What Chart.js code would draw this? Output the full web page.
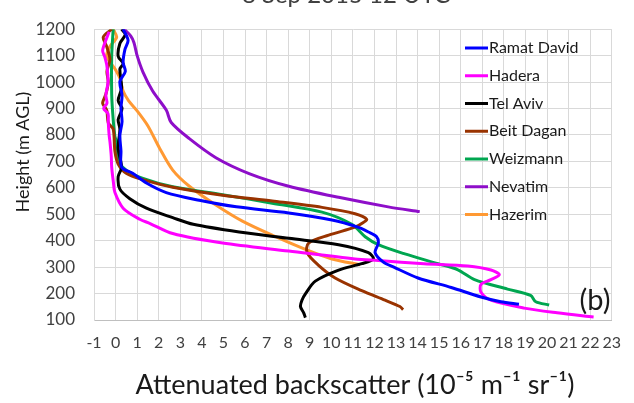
<!DOCTYPE html>
<html>
<head>
<meta charset="utf-8">
<script src="https://cdn.jsdelivr.net/npm/chart.js@4/dist/chart.umd.min.js"></script>
<style>
  html, body { margin: 0; padding: 0; background: #fff; overflow: hidden; }
  #wrap { width: 634px; height: 403px; position: relative; }
</style>
</head>
<body>
<div id="wrap"><canvas id="c" width="634" height="403"></canvas></div>
<script>
// ---- data: [backscatter (1e-5 m-1 sr-1), height (m AGL)] ----
const seriesNames = ["Ramat David", "Hadera", "Tel Aviv", "Beit Dagan", "Weizmann", "Nevatim", "Hazerim"];
const seriesColors = ["#0000ff", "#ff00ff", "#000000", "#993300", "#00a650", "#8e0ec9", "#ff9933"];

const ramatDavid = [[0.35,1200],[0.58,1158],[0.43,1122],[0.35,1074],[0.45,1040],[0.2,1002],[0.3,950],[0.25,900],[0.3,850],[0.2,798],[0.25,740],[0.28,678],[0.81,654],[1.43,618],[2.35,582],[3.88,553],[5.6,528],[8.03,505],[10.03,478],[11.2,452],[11.72,433],[12.1,415],[12.18,391],[12.03,355],[12.4,320],[12.9,300],[14.02,259],[15.56,223],[16.94,187],[17.86,169],[18.7,160]];
const hadera = [[-0.3,1190],[-0.6,1120],[-0.5,1095],[-0.4,1060],[-0.35,1000],[-0.45,950],[-0.4,920],[-0.55,900],[-0.35,880],[-0.34,850],[-0.3,800],[-0.26,774],[-0.2,720],[-0.18,678],[-0.1,620],[-0.03,582],[0.35,523],[1.12,481],[1.6,465],[2.65,427],[4.96,391],[8.03,361],[11.1,331],[12.18,325],[14.3,313],[16.33,304],[17.4,289],[17.79,271],[17.4,253],[16.94,235],[16.94,205],[17.4,175],[18.94,145],[20.47,127],[22.16,111]];
const telAviv = [[0.28,1200],[0.45,1180],[0.2,1146],[0.12,1098],[0.35,1070],[0.2,1050],[0.28,978],[0.12,930],[0.3,900],[0.12,858],[0.2,822],[0.12,750],[0.28,678],[0.12,642],[0.2,595],[0.66,559],[1.43,523],[2.65,487],[3.6,462],[5.73,433],[8.03,409],[10.34,385],[11.72,355],[11.95,331],[11.41,313],[10.34,289],[9.26,247],[8.8,199],[8.64,175],[8.57,151],[8.72,127],[8.8,109]];
const beitDagan = [[-0.18,1200],[-0.57,1170],[-0.41,1134],[-0.26,1086],[-0.4,1040],[-0.34,1000],[-0.45,954],[-0.6,920],[-0.41,894],[-0.34,846],[-0.11,822],[-0.03,738],[0.12,690],[0.51,654],[1.27,631],[2.65,602],[4.96,572],[7.26,550],[9.57,526],[11.1,502],[11.64,481],[11.41,465],[11.1,451],[9.88,421],[8.95,391],[8.88,355],[9.41,307],[10.18,259],[11.41,211],[12.49,175],[13.18,151],[13.33,139]];
const weizmann = [[-0.11,1200],[-0.18,1098],[-0.18,954],[-0.11,858],[-0.03,794],[0.05,774],[0.12,702],[0.51,666],[1.27,636],[2.65,604],[4.96,574],[7.26,542],[9.57,508],[10.95,462],[11.57,415],[12.18,385],[13.41,350],[14.95,313],[15.87,290],[16.64,253],[18.17,217],[19.24,193],[19.48,169],[20.1,157]];
const nevatim = [[0.4,1200],[0.7,1175],[0.85,1150],[1.0,1100],[1.27,1038],[1.72,966],[2.35,894],[2.58,847],[3.42,786],[4.65,714],[6.19,654],[8.03,606],[10.34,564],[12.64,528],[14.1,510]];
const hazerim = [[-0.12,1200],[0.05,1170],[-0.26,1135],[-0.41,1098],[-0.03,1050],[0.2,1014],[0.35,966],[0.6,930],[0.97,894],[1.5,834],[2.04,750],[2.65,667],[3.42,606],[4.65,535],[5.88,474],[7.42,415],[8.8,367],[10.03,331],[11.34,309]];

const xTicksMin = -1, xTicksMax = 23, xStep = 1;
const yTicksMin = 100, yTicksMax = 1200, yStep = 100;

const chartTitle = "8 Sep 2015 12 UTC";
const xTitle = "Attenuated backscatter (10\u207B\u2075 m\u207B\u00B9 sr\u207B\u00B9)";
const yTitle = "Height (m AGL)";
const panelLabel = "(b)";

const FONT = "Lato, 'Open Sans', sans-serif";

const allSeries = [ramatDavid, hadera, telAviv, beitDagan, weizmann, nevatim, hazerim];
const datasets = allSeries.map((s, i) => ({
  label: seriesNames[i],
  data: s.map(p => ({ x: p[0], y: p[1] })),
  borderColor: seriesColors[i],
  backgroundColor: seriesColors[i],
  borderWidth: 3,
  pointRadius: 0,
  showLine: true,
  tension: 0.3,
  fill: false
}));

const decor = {
  id: 'decor',
  afterDraw(chart) {
    const ctx = chart.ctx;
    ctx.save();
    // chart title (cut off at the top)
    ctx.fillStyle = '#404040';
    ctx.font = "24px " + FONT;
    ctx.textAlign = 'center';
    ctx.textBaseline = 'alphabetic';
    ctx.fillText(chartTitle, 346, 3);
    // x title
    ctx.fillStyle = '#1a1a1a';
    ctx.font = "27px " + FONT;
    ctx.fillText(xTitle, 355, 394);
    // y title
    ctx.save();
    ctx.translate(29, 152);
    ctx.rotate(-Math.PI / 2);
    ctx.font = "18px " + FONT;
    ctx.textAlign = 'center';
    ctx.textBaseline = 'alphabetic';
    ctx.fillText(yTitle, 0, 0);
    ctx.restore();
    // panel label
    ctx.font = "29px " + FONT;
    ctx.textAlign = 'center';
    ctx.fillText(panelLabel, 595, 310);
    // legend
    ctx.font = "16px " + FONT;
    ctx.textAlign = 'left';
    ctx.textBaseline = 'middle';
    chart.data.datasets.forEach((ds, i) => {
      const y = 48 + i * 27.75;
      ctx.strokeStyle = ds.borderColor;
      ctx.lineWidth = 3;
      ctx.beginPath();
      ctx.moveTo(465, y);
      ctx.lineTo(488, y);
      ctx.stroke();
      ctx.fillStyle = '#1a1a1a';
      ctx.fillText(ds.label, 489, y);
    });
    ctx.restore();
  }
};

new Chart(document.getElementById('c'), {
  type: 'scatter',
  data: { datasets },
  plugins: [decor],
  options: {
    responsive: false,
    animation: false,
    events: [],
    layout: { padding: { left: 0, top: 15, right: 19, bottom: 0 } },
    plugins: { legend: { display: false }, tooltip: { enabled: false }, title: { display: false } },
    scales: {
      x: {
        type: 'linear', min: xTicksMin, max: xTicksMax,
        afterFit(scale) { scale.height = 83; },
        ticks: { stepSize: xStep, autoSkip: false, maxRotation: 0, padding: 13, color: '#404040', font: { family: FONT, size: 16 }, callback: v => String(v) },
        grid: { color: '#d9d9d9', lineWidth: 1, drawTicks: false },
        border: { color: '#bfbfbf', width: 1 }
      },
      y: {
        type: 'linear', min: yTicksMin, max: yTicksMax,
        afterFit(scale) { scale.width = 94; },
        ticks: { stepSize: yStep, autoSkip: false, padding: 19, color: '#404040', font: { family: FONT, size: 17 }, callback: v => String(v) },
        grid: { color: '#d9d9d9', lineWidth: 1, drawTicks: false },
        border: { color: '#d9d9d9', width: 1 }
      }
    }
  }
});
</script>
</body>
</html>
